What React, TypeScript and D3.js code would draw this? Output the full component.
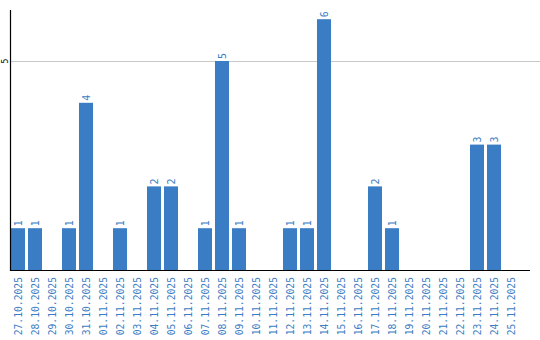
import React from "react";
import * as d3 from "d3";

const categories = [
  "27.10.2025", "28.10.2025", "29.10.2025", "30.10.2025", "31.10.2025",
  "01.11.2025", "02.11.2025", "03.11.2025", "04.11.2025", "05.11.2025",
  "06.11.2025", "07.11.2025", "08.11.2025", "09.11.2025", "10.11.2025",
  "11.11.2025", "12.11.2025", "13.11.2025", "14.11.2025", "15.11.2025",
  "16.11.2025", "17.11.2025", "18.11.2025", "19.11.2025", "20.11.2025",
  "21.11.2025", "22.11.2025", "23.11.2025", "24.11.2025", "25.11.2025",
];
const values = [1, 1, 0, 1, 4, 0, 1, 0, 2, 2, 0, 1, 5, 1, 0, 0, 1, 1, 6, 0, 0, 2, 1, 0, 0, 0, 0, 3, 3, 0];
const yTicks = [5];

const W = 540;
const H = 340;
const left = 10;
const right = 520;
const axisEnd = 530;
const top = 10;
const base = 270;
const color = "#3b7dc4";

export default function App() {
  const x = d3.scaleBand<string>().domain(categories).range([left - 0.5, right - 0.5]).paddingInner(0.176).paddingOuter(0.088);
  const y = d3.scaleLinear().domain([0, 6.22]).range([base, top]);
  const font = "'DejaVu Sans Mono', 'Liberation Mono', monospace";
  return (
    <svg width={W} height={H} style={{ position: "absolute", left: 0, top: 0, background: "#fff" }} fontFamily={font}>
      {yTicks.map((t) => (
        <g key={t}>
          <line x1={left} x2={W} y1={Math.round(y(t)) + 0.5} y2={Math.round(y(t)) + 0.5} stroke="#c8c8c8" strokeWidth={1} />
          <text transform={`translate(7.5,${y(t)}) rotate(-90)`} textAnchor="middle" fontSize={8} fill="#000">
            {t}
          </text>
        </g>
      ))}
      {categories.map((c, i) => {
        const v = values[i];
        const bx = x(c) as number;
        const cx = bx + x.bandwidth() / 2;
        return (
          <g key={c}>
            {v > 0 && (
              <rect x={bx} y={y(v)} width={x.bandwidth()} height={base - y(v)} fill={color} />
            )}
            {v > 0 && (
              <text transform={`translate(${cx + 3.5},${y(v) - 2}) rotate(-90)`} textAnchor="start" fontSize={10} fill={color}>
                {v}
              </text>
            )}
            <text transform={`translate(${cx + 3.5},${base + 7}) rotate(-90)`} textAnchor="end" fontSize={9.7} fill={color}>
              {c}
            </text>
          </g>
        );
      })}
      <line x1={left + 0.5} x2={left + 0.5} y1={top} y2={base + 1} stroke="#000" strokeWidth={1.2} />
      <line x1={left} x2={axisEnd} y1={base + 0.5} y2={base + 0.5} stroke="#000" strokeWidth={1.2} />
    </svg>
  );
}
